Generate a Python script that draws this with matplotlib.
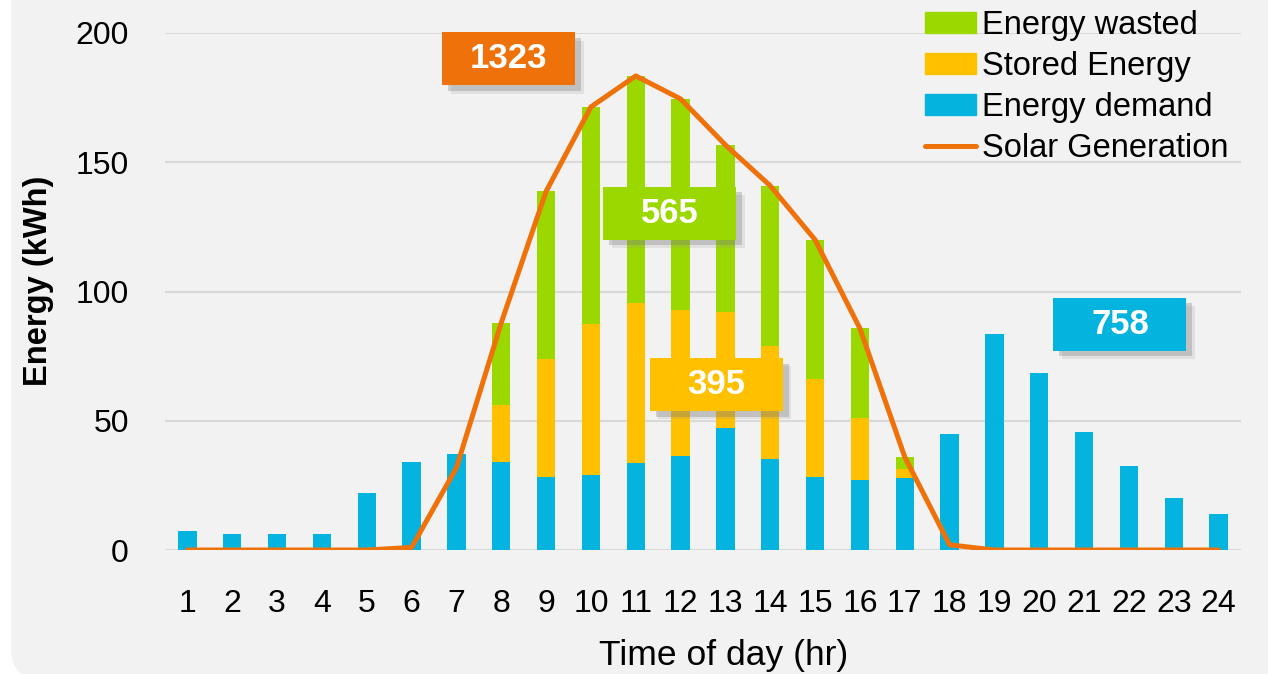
import matplotlib
matplotlib.use("Agg")
import matplotlib.pyplot as plt
import matplotlib.patheffects as pe
from matplotlib.patches import FancyBboxPatch, Patch, Rectangle
from matplotlib.lines import Line2D
from matplotlib.transforms import ScaledTranslation
import numpy as np

hours = list(range(1, 25))
demand = [7.3, 6.2, 6.2, 6.2, 22.2, 34.0, 37.0, 33.9, 28.4, 29.0, 33.6, 36.2,
          47.1, 35.2, 28.4, 26.9, 27.7, 44.7, 83.6, 68.3, 45.6, 32.5, 20.3, 13.8]
stored = [0, 0, 0, 0, 0, 0, 0, 22.2, 45.5, 58.5, 61.8, 56.8,
          45.1, 43.8, 37.8, 24.3, 3.5, 0, 0, 0, 0, 0, 0, 0]
wasted = [0, 0, 0, 0, 0, 0, 0, 31.8, 64.8, 83.9, 88.0, 81.5,
          64.5, 61.9, 53.8, 34.5, 4.6, 0, 0, 0, 0, 0, 0, 0]
solar = [0, 0, 0, 0, 0, 1.0, 31.8, 87.9, 138.7, 171.4, 183.4, 174.5,
         156.7, 140.9, 120.0, 85.7, 36.0, 2.0, 0, 0, 0, 0, 0, 0]

# total boxes: label, x (hour), y (kWh)
box_labels = ["1323", "565", "395", "758"]
box_x = [8.17, 11.76, 12.8, 21.8]
box_y = [190, 130.3, 64, 87.3]

c_blue = "#05B4DE"
c_gold = "#FFC000"
c_green = "#9BD800"
c_orange = "#EE7209"
box_colors = [c_orange, c_green, c_gold, c_blue]

plt.rcParams["font.family"] = ["Liberation Sans", "DejaVu Sans"]

fig = plt.figure(figsize=(12.68, 6.74), dpi=100)
fig.patch.set_facecolor("white")
W, H = 1268, 674
panel = FancyBboxPatch((11 / W, -6 / H), 1.2, 1.2,
                       boxstyle="round,pad=0,rounding_size=0.025",
                       transform=fig.transFigure, facecolor="#F2F2F2",
                       edgecolor="none", zorder=-5, mutation_aspect=W / H)
fig.patches.append(panel)

ax = fig.add_axes([165 / W, 1 - 550 / H, 1076 / W, 517 / H])
ax.set_facecolor("none")
ax.set_zorder(1)

x = np.array(hours)
bw = 0.41
ax.bar(x, demand, bw, color=c_blue, zorder=2)
ax.bar(x, stored, bw, bottom=demand, color=c_gold, zorder=2)
ax.bar(x, wasted, bw, bottom=np.array(demand) + np.array(stored), color=c_green, zorder=2)
ax.plot(x, solar, color=c_orange, lw=3.6, zorder=3, solid_capstyle="round")

ax.set_xlim(0.5, 24.5)
ax.set_ylim(0, 200)
ax.set_yticks([0, 50, 100, 150, 200])
ax.set_xticks(hours)
ax.set_xticklabels([str(h) for h in hours])
ax.grid(axis="y", color="#D9D9D9", lw=1.5, zorder=0)
ax.set_axisbelow(True)
for s in ax.spines.values():
    s.set_visible(False)
ax.tick_params(axis="both", length=0, labelsize=23, colors="black")
ax.tick_params(axis="x", pad=28)
ax.tick_params(axis="y", pad=26)

# total boxes (fixed size in inches) with a soft shadow
bw_in, bh_in = 1.33, 0.53
for lab, bx, by, col in zip(box_labels, box_x, box_y, box_colors):
    tr = fig.dpi_scale_trans + ScaledTranslation(bx, by, ax.transData)
    r = Rectangle((-bw_in / 2, -bh_in / 2), bw_in, bh_in, transform=tr,
                  facecolor=col, edgecolor="none", zorder=5, clip_on=False)
    r.set_path_effects([
        pe.SimplePatchShadow(offset=(6, -6), shadow_rgbFace="#999999", alpha=0.2),
        pe.SimplePatchShadow(offset=(4, -4), shadow_rgbFace="#777777", alpha=0.3),
        pe.Normal()])
    ax.add_patch(r)
    ax.text(bx, by, lab, ha="center", va="center", fontsize=25, fontweight="bold",
            color="white", zorder=6)

fig.text(39 / W, 1 - 281 / H, "Energy (kWh)", rotation=90, ha="center", va="center",
         fontsize=23.5, fontweight="bold")
fig.text(724 / W, 1 - 655 / H, "Time of day (hr)", ha="center", va="center", fontsize=25.5)

handles = [Patch(color=c_green), Patch(color=c_gold), Patch(color=c_blue),
           Line2D([], [], color=c_orange, lw=3.6, solid_capstyle="round")]
labels = ["Energy wasted", "Stored Energy", "Energy demand", "Solar Generation"]
fig.legend(handles, labels, loc="upper left", bbox_to_anchor=(925 / W, 1 - 10 / H),
           frameon=False, fontsize=23.5, handlelength=1.55, handleheight=0.6,
           handletextpad=0.2, labelspacing=0.31, borderpad=0, borderaxespad=0)

fig.savefig("out.png", dpi=100, facecolor=fig.get_facecolor())
